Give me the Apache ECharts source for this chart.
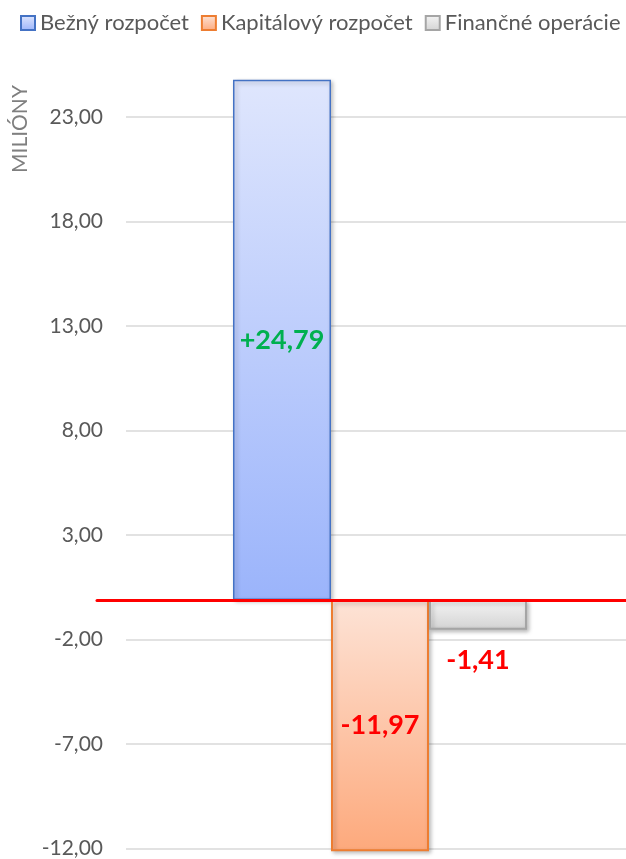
<!DOCTYPE html>
<html>
<head>
<meta charset="utf-8">
<title>Rozpočet</title>
<script src="https://cdn.jsdelivr.net/npm/echarts@6/dist/echarts.min.js"></script>
<style>
    html, body { margin: 0; padding: 0; background: #fff; }
    #main { width: 626px; height: 859px; }
</style>
</head>
<body>
<div id="main"></div>
<script>
    // data
    var categories = [''];
    var seriesNames = ['Bežný rozpočet', 'Kapitálový rozpočet', 'Finančné operácie'];
    var bezny = [24.79];
    var kapitalovy = [-11.97];
    var financne = [-1.41];
    var axisMin = -12, axisMax = 25, axisStep = 5;

    function fmt(v) {
        return v.toFixed(2).replace('.', ',');
    }
    function fmtSigned(v) {
        return (v > 0 ? '+' : '') + fmt(v);
    }
    function grad(top, bottom) {
        return new echarts.graphic.LinearGradient(0, 0, 0, 1, [
            { offset: 0, color: top },
            { offset: 1, color: bottom }
        ]);
    }

    var myChart = echarts.init(document.getElementById('main'));
    var gridTop = 75.3, gridBottom = 7;

    var labelBase = {
        show: true,
        fontWeight: 'bold',
        fontSize: 27,
        fontFamily: 'Lato'
    };
    var shadow = {
        shadowBlur: 4,
        shadowOffsetX: 2,
        shadowOffsetY: 2,
        shadowColor: 'rgba(0,0,0,0.25)'
    };

    // hidden category axis (no line, ticks, labels)
    function plainX(gridIndex) {
        return {
            type: 'category',
            gridIndex: gridIndex,
            data: categories,
            axisLine: { show: false },
            axisTick: { show: false },
            axisLabel: { show: false }
        };
    }

    var option = {
        animation: false,
        textStyle: { fontFamily: 'Lato' },
        legend: {
            left: 20,
            top: 12,
            padding: 0,
            icon: 'rect',
            itemWidth: 14,
            itemHeight: 14,
            itemGap: 12,
            textStyle: { fontSize: 22, color: '#595959', fontFamily: 'Lato' },
            data: seriesNames
        },
        graphic: [{
            type: 'text',
            left: 10,
            top: 85,
            rotation: Math.PI / 2,
            style: { text: 'MILIÓNY', fontSize: 21, fill: '#7f7f7f', fontFamily: 'Lato' }
        }],
        grid: [
            // bars
            { left: 134, right: 0, top: gridTop, bottom: gridBottom },
            // value axis labels and gridlines
            { left: 126, right: 0, top: gridTop, bottom: gridBottom },
            // red zero line
            { left: 97, right: 0, top: gridTop, bottom: gridBottom }
        ],
        xAxis: [
            plainX(0),
            plainX(1),
            {
                type: 'category',
                gridIndex: 2,
                data: categories,
                z: 10,
                axisLine: { show: true, onZero: true, lineStyle: { color: '#ff0000', width: 3 } },
                axisTick: { show: false },
                axisLabel: { show: false }
            }
        ],
        yAxis: [
            { type: 'value', gridIndex: 0, min: axisMin, max: axisMax, show: false },
            {
                type: 'value',
                gridIndex: 1,
                min: axisMin,
                max: axisMax,
                interval: axisStep,
                axisLine: { show: false },
                axisTick: { show: false },
                axisLabel: {
                    showMaxLabel: false,
                    margin: 23,
                    fontSize: 21,
                    color: '#595959',
                    fontFamily: 'Lato',
                    formatter: function (v) { return fmt(v); }
                },
                splitLine: { showMaxLine: false, lineStyle: { color: '#d9d9d9', width: 1.5 } }
            },
            { type: 'value', gridIndex: 2, min: axisMin, max: axisMax, show: false }
        ],
        series: [
            {
                name: seriesNames[0],
                type: 'bar',
                data: bezny,
                barWidth: 98,
                barGap: '0%',
                itemStyle: Object.assign({
                    color: grad('#dfe6fd', '#9bb4fb'),
                    borderColor: '#4472c4',
                    borderWidth: 1.5
                }, shadow),
                label: Object.assign({}, labelBase, {
                    position: 'inside',
                    color: '#00b050',
                    formatter: function (p) { return fmtSigned(p.value); }
                })
            },
            {
                name: seriesNames[1],
                type: 'bar',
                data: kapitalovy,
                barWidth: 98,
                barGap: '0%',
                itemStyle: Object.assign({
                    color: grad('#fde3d6', '#fda97c'),
                    borderColor: '#ed7d31',
                    borderWidth: 2
                }, shadow),
                label: Object.assign({}, labelBase, {
                    position: 'inside',
                    color: '#ff0000',
                    formatter: function (p) { return fmtSigned(p.value); }
                })
            },
            {
                name: seriesNames[2],
                type: 'bar',
                data: financne,
                barWidth: 98,
                barGap: '0%',
                itemStyle: Object.assign({
                    color: grad('#f4f4f4', '#d3d3d3'),
                    borderColor: '#a5a5a5',
                    borderWidth: 2
                }, shadow),
                label: Object.assign({}, labelBase, {
                    position: 'bottom',
                    distance: 17,
                    color: '#ff0000',
                    formatter: function (p) { return fmtSigned(p.value); }
                })
            }
        ]
    };

    myChart.setOption(option);
</script>
</body>
</html>
